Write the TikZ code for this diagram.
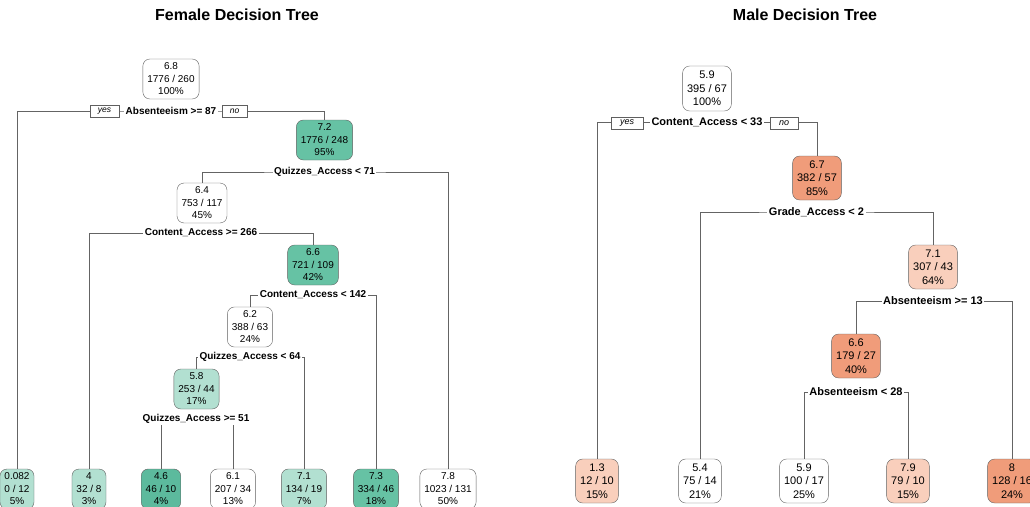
\documentclass[tikz,border=0pt]{standalone}
\usepackage{fontspec}
\setmainfont{Liberation Sans}
\usetikzlibrary{backgrounds}
\definecolor{boxgray}{RGB}{95,95,95}
\definecolor{edgegray}{RGB}{100,100,100}
\definecolor{tealmid}{RGB}{102,194,164}
\definecolor{tealdeep}{RGB}{92,186,157}
\definecolor{teallight}{RGB}{178,224,209}
\definecolor{orangemid}{RGB}{240,156,122}
\definecolor{orangelight}{RGB}{249,207,188}

\begin{document}
\begin{tikzpicture}[
    x=1pt, y=-1pt,
    fbox/.style={
        draw=boxgray,
        rounded corners=7pt,
        fill=white,
        align=center,
        font=\fontsize{10}{12.5}\selectfont,
        inner xsep=4.5pt,
        inner ysep=0pt,
        minimum height=40pt
    },
    mbox/.style={
        fbox,
        font=\fontsize{11}{13.5}\selectfont,
        minimum height=44pt
    },
    fsplit/.style={
        fill=white,
        font=\bfseries\fontsize{10}{12}\selectfont,
        inner xsep=1.5pt,
        inner ysep=1pt
    },
    msplit/.style={
        fsplit,
        font=\bfseries\fontsize{11}{13}\selectfont
    },
    yesno/.style={
        draw=boxgray,
        fill=white,
        font=\itshape\fontsize{8.5}{9}\selectfont,
        minimum width=29pt,
        minimum height=12pt,
        inner sep=0pt
    },
    edge/.style={
        edgegray,
        line width=0.8pt
    },
    ttl/.style={
        font=\bfseries\fontsize{16}{19}\selectfont
    }
]

\path[use as bounding box, clip] (0,0) rectangle (1030,506);

% ============================================================
% FEMALE TREE
% ============================================================

\node[ttl] (ftitle) at (237,15) {Female Decision Tree};

\node[fbox] (froot) at (171,79) {6.8\\1776 / 260\\100\%};
\node[fsplit] (fs1) at (171,111) {Absenteeism >= 87};
\node[yesno] (fyes) at (104.5,111) {yes};
\node[yesno, minimum width=25pt] (fno) at (234.5,111) {no};

\node[fbox, fill=tealmid] (f72) at (324.5,140) {7.2\\1776 / 248\\95\%};
\node[fsplit] (fs2) at (324.5,172) {Quizzes\_Access < 71};

\node[fbox] (f64) at (202,203) {6.4\\753 / 117\\45\%};
\node[fsplit] (fs3) at (201,233) {Content\_Access >= 266};

\node[fbox, fill=tealmid] (f66) at (313,265) {6.6\\721 / 109\\42\%};
\node[fsplit] (fs4) at (313,295) {Content\_Access < 142};

\node[fbox] (f62) at (250,327) {6.2\\388 / 63\\24\%};
\node[fsplit] (fs5) at (250,357) {Quizzes\_Access < 64};

\node[fbox, fill=teallight] (f58) at (196.5,389) {5.8\\253 / 44\\17\%};
\node[fsplit] (fs6) at (196,419) {Quizzes\_Access >= 51};

% leaves, cut by the lower edge
\node[fbox, fill=teallight] (fl1) at (17,489) {0.082\\0 / 12\\5\%};
\node[fbox, fill=teallight] (fl2) at (89,489) {4\\32 / 8\\3\%};
\node[fbox, fill=tealdeep] (fl3) at (161,489) {4.6\\46 / 10\\4\%};
\node[fbox] (fl4) at (233,489) {6.1\\207 / 34\\13\%};
\node[fbox, fill=teallight] (fl5) at (304,489) {7.1\\134 / 19\\7\%};
\node[fbox, fill=tealmid] (fl6) at (376,489) {7.3\\334 / 46\\18\%};
\node[fbox] (fl7) at (448,489) {7.8\\1023 / 131\\50\%};

% ============================================================
% MALE TREE
% ============================================================

\node[ttl] (mtitle) at (805,15) {Male Decision Tree};

\node[mbox, minimum height=45pt] (mroot) at (707,88.5) {5.9\\395 / 67\\100\%};
\node[msplit] (ms1) at (707,122) {Content\_Access < 33};
\node[yesno, minimum width=32pt, font=\itshape\fontsize{9}{10}\selectfont] (myes) at (627,123) {yes};
\node[yesno, minimum width=28pt, font=\itshape\fontsize{9}{10}\selectfont] (mno) at (784,123) {no};

\node[mbox, fill=orangemid] (m67) at (817,178) {6.7\\382 / 57\\85\%};
\node[msplit] (ms2) at (816.5,212) {Grade\_Access < 2};

\node[mbox, fill=orangelight] (m71) at (933,267) {7.1\\307 / 43\\64\%};
\node[msplit] (ms3) at (933,301) {Absenteeism >= 13};

\node[mbox, fill=orangemid] (m66) at (856,356) {6.6\\179 / 27\\40\%};
\node[msplit] (ms4) at (856,392) {Absenteeism < 28};

% leaves
\node[mbox, fill=orangelight] (ml1) at (597,481) {1.3\\12 / 10\\15\%};
\node[mbox] (ml2) at (700,481) {5.4\\75 / 14\\21\%};
\node[mbox] (ml3) at (804,481) {5.9\\100 / 17\\25\%};
\node[mbox, fill=orangelight] (ml4) at (908,481) {7.9\\79 / 10\\15\%};
\node[mbox, fill=orangemid] (ml5) at (1012,481) {8\\128 / 16\\24\%};

% ============================================================
% BRANCHES — behind the boxes and the split labels
% ============================================================

\begin{pgfonlayer}{background}
\draw[edge] (fl1.north) |- (fs1.center) -| (f72.north);
\draw[edge] (f64.north) |- (fs2.center) -| (fl7.north);
\draw[edge] (fl2.north) |- (fs3.center) -| (f66.north);
\draw[edge] (f62.north) |- (fs4.center) -| (fl6.north);
\draw[edge] (f58.north) |- (fs5.center) -| (fl5.north);
\draw[edge] (fl3.north) |- (fs6.center) -| (fl4.north);

\draw[edge] (ml1.north) |- (ms1.center) -| (m67.north);
\draw[edge] (ml2.north) |- (ms2.center) -| (m71.north);
\draw[edge] (m66.north) |- (ms3.center) -| (ml5.north);
\draw[edge] (ml3.north) |- (ms4.center) -| (ml4.north);
\end{pgfonlayer}

\end{tikzpicture}
\end{document}
